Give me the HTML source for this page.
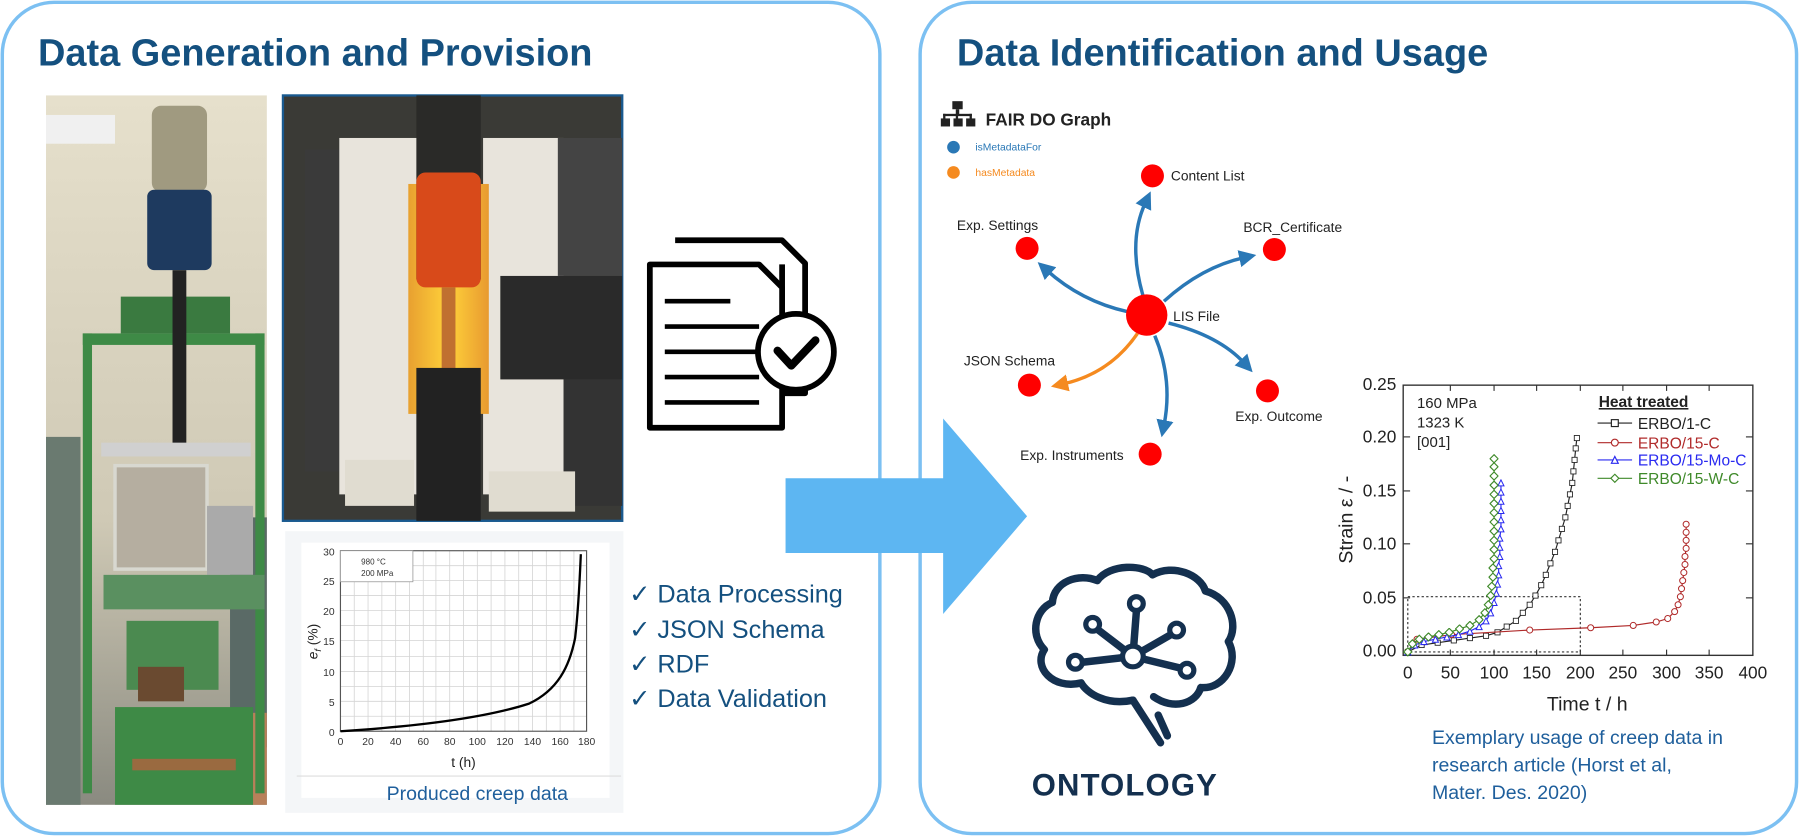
<!DOCTYPE html>
<html><head><meta charset="utf-8"><style>
html,body{margin:0;padding:0;background:#fff;width:1800px;height:837px;overflow:hidden}
svg{display:block}
text{font-family:"Liberation Sans",sans-serif}
</style></head><body>
<svg width="1800" height="837" viewBox="0 0 1565 728" preserveAspectRatio="none" xmlns="http://www.w3.org/2000/svg">
<defs>
<marker id="ab" viewBox="0 0 10 10" refX="3" refY="5" markerWidth="5" markerHeight="5" orient="auto"><path d="M0,0 L10,5 L0,10 z" fill="#2a78b6"/></marker>
<marker id="ao" viewBox="0 0 10 10" refX="3" refY="5" markerWidth="5" markerHeight="5" orient="auto"><path d="M0,0 L10,5 L0,10 z" fill="#f58a1f"/></marker>
<marker id="msq" viewBox="0 0 8 8" refX="4" refY="4" markerWidth="6" markerHeight="6" markerUnits="userSpaceOnUse"><rect x="1" y="1" width="6" height="6" fill="#fff" stroke="#222" stroke-width="1"/></marker>
<marker id="mci" viewBox="0 0 8 8" refX="4" refY="4" markerWidth="7" markerHeight="7" markerUnits="userSpaceOnUse"><circle cx="4" cy="4" r="3" fill="#fff" stroke="#b02a2a" stroke-width="1"/></marker>
<marker id="mtr" viewBox="0 0 8 8" refX="4" refY="4" markerWidth="7" markerHeight="7" markerUnits="userSpaceOnUse"><path d="M4,1 L7,7 L1,7 z" fill="#fff" stroke="#2a2af0" stroke-width="1"/></marker>
<marker id="mdi" viewBox="0 0 8 8" refX="4" refY="4" markerWidth="8" markerHeight="8" markerUnits="userSpaceOnUse"><path d="M4,0.5 L7.5,4 L4,7.5 L0.5,4 z" fill="#fff" stroke="#3f8a2a" stroke-width="1"/></marker>
<linearGradient id="glow" x1="0" x2="1"><stop offset="0" stop-color="#e8a030"/><stop offset="0.5" stop-color="#ffd23a"/><stop offset="1" stop-color="#e89a30"/></linearGradient>
<linearGradient id="bg1" x1="0" y1="0" x2="0" y2="1"><stop offset="0" stop-color="#e6e0cc"/><stop offset="0.6" stop-color="#cfc9b5"/><stop offset="1" stop-color="#8a8a80"/></linearGradient>
</defs>

<rect x="2" y="2" width="763" height="723" rx="45" fill="#fff" stroke="#7cc0f2" stroke-width="3"/>
<rect x="800" y="2" width="762" height="723" rx="45" fill="#fff" stroke="#7cc0f2" stroke-width="3"/>

<text x="33" y="57" font-size="33" font-weight="bold" fill="#14507f">Data Generation and Provision</text>
<text x="832" y="57" font-size="33" font-weight="bold" fill="#14507f">Data Identification and Usage</text>

<!-- machine photo -->
<rect x="40" y="83" width="192" height="617" fill="url(#bg1)"/>
<rect x="40" y="100" width="60" height="25" fill="#f0f0f0"/>
<rect x="40" y="380" width="30" height="320" fill="#6a7a70"/>
<rect x="200" y="450" width="32" height="200" fill="#5a6a66"/>
<rect x="200" y="620" width="32" height="80" fill="#b8805a"/>
<rect x="72" y="290" width="8" height="400" fill="#3e8a46"/>
<rect x="222" y="290" width="8" height="400" fill="#3e8a46"/>
<rect x="72" y="290" width="158" height="10" fill="#3e8a46"/>
<rect x="105" y="258" width="95" height="32" fill="#3a7a40"/>
<rect x="132" y="92" width="48" height="75" rx="8" fill="#a09a80"/>
<rect x="128" y="165" width="56" height="70" rx="6" fill="#1e3a5f"/>
<rect x="150" y="235" width="12" height="155" fill="#222"/>
<rect x="88" y="385" width="130" height="12" fill="#d0d0d0"/>
<rect x="100" y="405" width="80" height="90" fill="#b5aea0" stroke="#d8d8d0" stroke-width="3"/>
<rect x="180" y="440" width="40" height="60" fill="#aaa"/>
<rect x="90" y="500" width="140" height="30" fill="#5a9060"/>
<rect x="110" y="540" width="80" height="60" fill="#4b8a50"/>
<rect x="120" y="580" width="40" height="30" fill="#6a4a30"/>
<rect x="100" y="615" width="120" height="85" fill="#3e8a46"/>
<rect x="115" y="660" width="90" height="10" fill="#9a6a40"/>

<!-- furnace photo -->
<rect x="246" y="83" width="295" height="370" fill="#3a3a36" stroke="#1a5a90" stroke-width="2"/>
<rect x="265" y="130" width="40" height="280" fill="#3a3a3a"/>
<rect x="295" y="120" width="70" height="310" fill="#e8e4dc"/>
<rect x="420" y="120" width="70" height="310" fill="#e8e4dc"/>
<rect x="355" y="160" width="70" height="200" fill="url(#glow)"/>
<rect x="362" y="83" width="56" height="160" fill="#2a2a28"/>
<rect x="362" y="150" width="56" height="100" rx="8" fill="#d84a1a"/>
<rect x="384" y="250" width="12" height="80" fill="#c07030"/>
<rect x="362" y="320" width="56" height="133" fill="#222"/>
<rect x="435" y="240" width="106" height="90" fill="#2a2a2a"/>
<rect x="485" y="120" width="56" height="120" fill="#444"/>
<rect x="490" y="330" width="51" height="110" fill="#333"/>
<rect x="300" y="400" width="60" height="40" fill="#e0dcd0"/>
<rect x="425" y="410" width="75" height="35" fill="#e0dcd0"/>

<!-- creep chart -->
<rect x="248" y="462" width="294" height="245" fill="#f4f6f8"/>
<rect x="262" y="472" width="268" height="222" fill="#fff"/>
<g stroke="#d4d4d4" stroke-width="0.7">
<line x1="308" y1="479" x2="308" y2="636"/><line x1="320" y1="479" x2="320" y2="636"/><line x1="332" y1="479" x2="332" y2="636"/><line x1="344" y1="479" x2="344" y2="636"/><line x1="356" y1="479" x2="356" y2="636"/><line x1="368" y1="479" x2="368" y2="636"/><line x1="379" y1="479" x2="379" y2="636"/><line x1="391" y1="479" x2="391" y2="636"/><line x1="403" y1="479" x2="403" y2="636"/><line x1="415" y1="479" x2="415" y2="636"/><line x1="427" y1="479" x2="427" y2="636"/><line x1="439" y1="479" x2="439" y2="636"/><line x1="451" y1="479" x2="451" y2="636"/><line x1="463" y1="479" x2="463" y2="636"/><line x1="475" y1="479" x2="475" y2="636"/><line x1="487" y1="479" x2="487" y2="636"/><line x1="499" y1="479" x2="499" y2="636"/>
<line x1="296" y1="505" x2="510" y2="505"/><line x1="296" y1="531" x2="510" y2="531"/><line x1="296" y1="557" x2="510" y2="557"/><line x1="296" y1="584" x2="510" y2="584"/><line x1="296" y1="610" x2="510" y2="610"/>
<line x1="296" y1="492" x2="510" y2="492"/><line x1="296" y1="518" x2="510" y2="518"/><line x1="296" y1="544" x2="510" y2="544"/><line x1="296" y1="571" x2="510" y2="571"/><line x1="296" y1="597" x2="510" y2="597"/><line x1="296" y1="623" x2="510" y2="623"/>
</g>
<rect x="296" y="479" width="214" height="157" fill="none" stroke="#555" stroke-width="1"/>
<rect x="296" y="479" width="63" height="27" fill="#fff" stroke="#999" stroke-width="0.7"/>
<text x="314" y="491" font-size="7" fill="#333">980 °C</text>
<text x="314" y="501" font-size="7" fill="#333">200 MPa</text>
<path d="M296,636 C360,632 420,625 460,612 C485,600 495,580 500,555 C503,530 504,505 505,482" fill="none" stroke="#000" stroke-width="2"/>
<g font-size="9" fill="#333" text-anchor="end"><text x="291" y="483">30</text><text x="291" y="509">25</text><text x="291" y="535">20</text><text x="291" y="561">15</text><text x="291" y="588">10</text><text x="291" y="614">5</text><text x="291" y="640">0</text></g>
<g font-size="9" fill="#333" text-anchor="middle"><text x="296" y="648">0</text><text x="320" y="648">20</text><text x="344" y="648">40</text><text x="368" y="648">60</text><text x="391" y="648">80</text><text x="415" y="648">100</text><text x="439" y="648">120</text><text x="463" y="648">140</text><text x="487" y="648">160</text><text x="510" y="648">180</text></g>
<text x="403" y="667" font-size="12" fill="#222" text-anchor="middle">t (h)</text>
<text transform="translate(276,558) rotate(-90)" font-size="12" fill="#222" text-anchor="middle"><tspan font-style="italic">e</tspan><tspan font-size="8" font-style="italic" dy="3">f</tspan><tspan dy="-3"> (%)</tspan></text>
<line x1="258" y1="675" x2="540" y2="675" stroke="#ddd"/>
<text x="415" y="696" font-size="17" fill="#1f5f9c" text-anchor="middle">Produced creep data</text>

<!-- document icon -->
<g fill="#fff" stroke="#000" stroke-width="5" stroke-linejoin="round">
<path d="M587,209 L680,209 L700,229 L700,342 L680,342 L680,230"/>
<path d="M565,230 L660,230 L680,250 L680,372 L565,372 Z"/>
</g>
<g stroke="#000" stroke-width="4"><line x1="578" y1="262" x2="635" y2="262"/><line x1="578" y1="284" x2="660" y2="284"/><line x1="578" y1="306" x2="660" y2="306"/><line x1="578" y1="328" x2="660" y2="328"/><line x1="578" y1="350" x2="660" y2="350"/></g>
<circle cx="692" cy="306" r="33" fill="#fff" stroke="#000" stroke-width="5"/>
<path d="M676,305 L688,318 L709,296" fill="none" stroke="#000" stroke-width="7" stroke-linecap="round" stroke-linejoin="round"/>

<g font-size="22" fill="#14507f"><text x="547" y="524">✓ Data Processing</text><text x="547" y="555">✓ JSON Schema</text><text x="547" y="585">✓ RDF</text><text x="547" y="615">✓ Data Validation</text></g>

<path d="M683,416 L820,416 L820,364 L893,449 L820,534 L820,481 L683,481 Z" fill="#5db6f2"/>

<!-- FAIR DO graph -->
<g fill="#222"><rect x="828" y="88" width="9" height="7"/><rect x="831" y="95" width="3" height="5"/><rect x="820" y="99" width="25" height="2"/><rect x="820" y="99" width="2" height="5"/><rect x="831" y="99" width="2" height="5"/><rect x="843" y="99" width="2" height="5"/><rect x="818" y="103" width="8" height="7"/><rect x="829" y="103" width="8" height="7"/><rect x="840" y="103" width="8" height="7"/></g>
<text x="857" y="109" font-size="15" font-weight="bold" fill="#222">FAIR DO Graph</text>
<circle cx="829" cy="128" r="5.5" fill="#2a78b6"/><text x="848" y="131" font-size="9" fill="#2a78b6">isMetadataFor</text>
<circle cx="829" cy="150" r="5.5" fill="#f58a1f"/><text x="848" y="153" font-size="9" fill="#f58a1f">hasMetadata</text>
<g fill="none" stroke="#2a78b6" stroke-width="3">
<path d="M994,258 Q980,210 996,176" marker-end="url(#ab)"/>
<path d="M980,271 Q940,262 910,235" marker-end="url(#ab)"/>
<path d="M1012,262 Q1045,232 1082,224" marker-end="url(#ab)"/>
<path d="M1016,281 Q1060,292 1082,316" marker-end="url(#ab)"/>
<path d="M1004,292 Q1020,330 1012,370" marker-end="url(#ab)"/>
</g>
<path d="M989,290 Q965,325 924,334" fill="none" stroke="#f58a1f" stroke-width="3" marker-end="url(#ao)"/>
<g fill="#f00"><circle cx="997" cy="274" r="18"/><circle cx="1002" cy="153" r="10"/><circle cx="893" cy="216" r="10"/><circle cx="1108" cy="217" r="10"/><circle cx="895" cy="335" r="10"/><circle cx="1102" cy="340" r="10"/><circle cx="1000" cy="395" r="10"/></g>
<g font-size="12" fill="#222"><text x="1018" y="157">Content List</text><text x="832" y="200">Exp. Settings</text><text x="1081" y="202">BCR_Certificate</text><text x="1020" y="279">LIS File</text><text x="838" y="318">JSON Schema</text><text x="1074" y="366">Exp. Outcome</text><text x="887" y="400">Exp. Instruments</text></g>

<!-- brain -->
<g fill="none" stroke="#14304f" stroke-width="6.5" stroke-linecap="round" stroke-linejoin="round">
<path d="M985,609 C962,614 945,603 940,594 C915,600 898,580 908,565 C895,552 900,530 915,524 C916,506 938,498 954,505 C965,490 995,491 1002,500 C1020,490 1044,500 1048,514 C1070,520 1077,545 1068,558 C1078,576 1064,600 1044,598 C1040,612 1020,618 1003,606"/>
<path d="M985,609 L1009,646"/><path d="M1007,622 L1015,640"/>
<path d="M985,571 L988,532 M985,571 L955,548 M985,571 L941,576 M985,571 L1018,552 M985,571 L1026,581"/>
</g>
<g fill="#fff" stroke="#14304f" stroke-width="4.5"><circle cx="985" cy="571" r="9"/><circle cx="988" cy="525" r="6"/><circle cx="950" cy="543" r="6"/><circle cx="935" cy="576" r="6"/><circle cx="1023" cy="548" r="6"/><circle cx="1032" cy="583" r="6"/></g>
<text x="978" y="692" font-size="27" font-weight="bold" fill="#14304f" text-anchor="middle" letter-spacing="1">ONTOLOGY</text>

<!-- strain chart -->
<rect x="1220" y="335" width="304" height="235" fill="none" stroke="#333" stroke-width="1.2"/>
<g stroke="#333" stroke-width="1">
<line x1="1220" y1="520" x2="1226" y2="520"/><line x1="1220" y1="473" x2="1226" y2="473"/><line x1="1220" y1="427" x2="1226" y2="427"/><line x1="1220" y1="380" x2="1226" y2="380"/>
<line x1="1518" y1="520" x2="1524" y2="520"/><line x1="1518" y1="473" x2="1524" y2="473"/><line x1="1518" y1="427" x2="1524" y2="427"/><line x1="1518" y1="380" x2="1524" y2="380"/>
<line x1="1261" y1="570" x2="1261" y2="565"/><line x1="1299" y1="570" x2="1299" y2="565"/><line x1="1336" y1="570" x2="1336" y2="565"/><line x1="1374" y1="570" x2="1374" y2="565"/><line x1="1411" y1="570" x2="1411" y2="565"/><line x1="1449" y1="570" x2="1449" y2="565"/><line x1="1486" y1="570" x2="1486" y2="565"/>
<line x1="1261" y1="335" x2="1261" y2="340"/><line x1="1299" y1="335" x2="1299" y2="340"/><line x1="1336" y1="335" x2="1336" y2="340"/><line x1="1374" y1="335" x2="1374" y2="340"/><line x1="1411" y1="335" x2="1411" y2="340"/><line x1="1449" y1="335" x2="1449" y2="340"/><line x1="1486" y1="335" x2="1486" y2="340"/>
</g>
<rect x="1224" y="519" width="150" height="48" fill="none" stroke="#333" stroke-width="1" stroke-dasharray="2,2"/>
<g font-size="15" fill="#222" text-anchor="end"><text x="1214" y="339">0.25</text><text x="1214" y="385">0.20</text><text x="1214" y="432">0.15</text><text x="1214" y="478">0.10</text><text x="1214" y="525">0.05</text><text x="1214" y="571">0.00</text></g>
<g font-size="15" fill="#222" text-anchor="middle"><text x="1224" y="590">0</text><text x="1261" y="590">50</text><text x="1299" y="590">100</text><text x="1336" y="590">150</text><text x="1374" y="590">200</text><text x="1411" y="590">250</text><text x="1449" y="590">300</text><text x="1486" y="590">350</text><text x="1524" y="590">400</text></g>
<text x="1380" y="618" font-size="17" fill="#222" text-anchor="middle">Time t / h</text>
<text transform="translate(1176,452) rotate(-90)" font-size="17" fill="#222" text-anchor="middle">Strain ε / -</text>
<g font-size="13" fill="#222"><text x="1232" y="355">160 MPa</text><text x="1232" y="372">1323 K</text><text x="1232" y="389">[001]</text></g>
<polyline fill="none" stroke="#222" stroke-width="1" marker-start="url(#msq)" marker-mid="url(#msq)" marker-end="url(#msq)" points="1224,567 1236,561 1250,559 1264,557 1278,555 1292,553 1302,550 1310,545 1318,540 1324,533 1330,526 1335,518 1340,509 1344,500 1348,490 1352,480 1355,470 1358,460 1361,450 1363,440 1365,430 1367,420 1368,410 1369,400 1370,390 1371,381"/>
<polyline fill="none" stroke="#b02a2a" stroke-width="1" marker-start="url(#mci)" marker-mid="url(#mci)" marker-end="url(#mci)" points="1224,567 1232,556 1262,552 1330,548 1383,546 1420,544 1440,541 1450,538 1456,532 1459,526 1461,519 1462,512 1463,505 1464,498 1465,491 1465,484 1466,477 1466,470 1466,463 1466,456"/>
<polyline fill="none" stroke="#2a2af0" stroke-width="1" marker-start="url(#mtr)" marker-mid="url(#mtr)" marker-end="url(#mtr)" points="1224,567 1230,561 1238,558 1248,556 1258,554 1268,552 1278,549 1286,545 1292,540 1296,533 1299,524 1301,516 1302,508 1303,500 1303,492 1304,484 1304,476 1304,468 1305,460 1305,452 1305,444 1305,436 1305,428 1305,420"/>
<polyline fill="none" stroke="#3f8a2a" stroke-width="1" marker-start="url(#mdi)" marker-mid="url(#mdi)" marker-end="url(#mdi)" points="1224,567 1228,560 1234,556 1242,554 1251,552 1260,550 1269,547 1278,544 1286,539 1291,533 1294,526 1296,518 1297,510 1298,502 1298,494 1299,486 1299,478 1299,470 1299,462 1299,454 1299,446 1299,438 1299,430 1299,422 1299,414 1299,406 1299,399"/>
<text x="1390" y="354" font-size="13.5" font-weight="bold" fill="#222" text-decoration="underline">Heat treated</text>
<g font-size="13.5">
<line x1="1389" y1="368" x2="1419" y2="368" stroke="#222"/><rect x="1401" y="365" width="6" height="6" fill="#fff" stroke="#222"/><text x="1424" y="373" fill="#222">ERBO/1-C</text>
<line x1="1389" y1="385" x2="1419" y2="385" stroke="#b02a2a"/><circle cx="1404" cy="385" r="3" fill="#fff" stroke="#b02a2a"/><text x="1424" y="390" fill="#b02a2a">ERBO/15-C</text>
<line x1="1389" y1="400" x2="1419" y2="400" stroke="#2a2af0"/><path d="M1404,397 L1407,403 L1401,403 z" fill="#fff" stroke="#2a2af0"/><text x="1424" y="405" fill="#2a2af0">ERBO/15-Mo-C</text>
<line x1="1389" y1="416" x2="1419" y2="416" stroke="#3f8a2a"/><path d="M1404,412.5 L1407.5,416 L1404,419.5 L1400.5,416 z" fill="#fff" stroke="#3f8a2a"/><text x="1424" y="421" fill="#3f8a2a">ERBO/15-W-C</text>
</g>
<g font-size="17" fill="#1f5f9c"><text x="1245" y="647">Exemplary usage of creep data in</text><text x="1245" y="671">research article (Horst et al,</text><text x="1245" y="695">Mater. Des. 2020)</text></g>
</svg>
</body></html>
